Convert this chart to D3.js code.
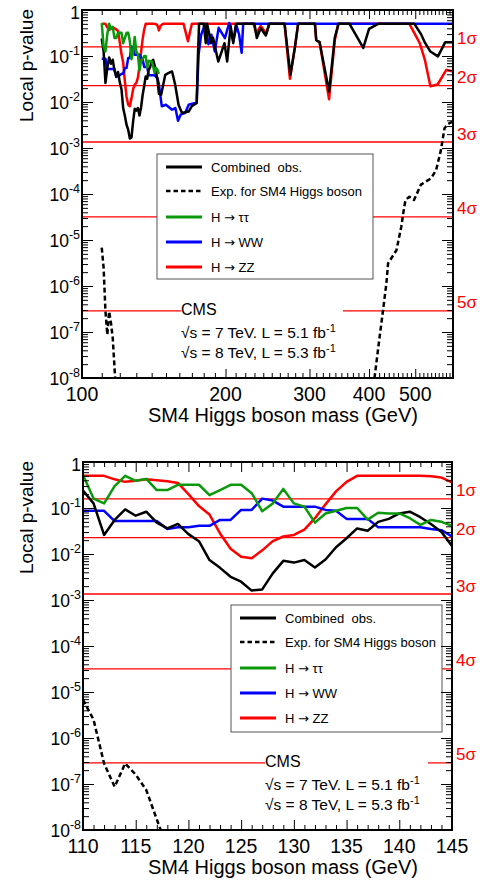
<!DOCTYPE html>
<html><head><meta charset="utf-8">
<script src="https://cdn.jsdelivr.net/npm/d3@7"></script>
<style>
body{margin:0;background:#fff}
svg{display:block}
text{font-family:"Liberation Sans",Arial,Helvetica,sans-serif}
</style>
</head><body>
<svg id="c" width="490" height="884"></svg>
<script>
// ---------------- DATA ----------------
const massLow = [110,111,112,113,114,115,116,117,118,119,120,121,122,123,124,125,126,127,128,129,130,131,132,133,134,135,136,137,138,139,140,141,142,143,144,145];
const combinedLow = [0.24,0.126,0.026,0.055,0.093,0.068,0.083,0.048,0.036,0.045,0.027,0.019,0.0074,0.0050,0.0032,0.0025,0.0016,0.0017,0.0038,0.0071,0.0065,0.0074,0.0051,0.0076,0.014,0.022,0.036,0.032,0.050,0.058,0.076,0.083,0.063,0.045,0.030,0.015];
const tautauLow = [0.52,0.16,0.126,0.30,0.50,0.39,0.43,0.245,0.245,0.32,0.32,0.32,0.19,0.245,0.32,0.32,0.21,0.085,0.126,0.26,0.126,0.107,0.048,0.076,0.087,0.10,0.10,0.056,0.079,0.076,0.076,0.060,0.043,0.055,0.050,0.041];
const wwLow = [0.087,0.087,0.087,0.052,0.052,0.052,0.052,0.052,0.035,0.038,0.038,0.041,0.041,0.055,0.055,0.091,0.091,0.16,0.145,0.107,0.107,0.107,0.107,0.091,0.087,0.058,0.058,0.058,0.038,0.038,0.038,0.038,0.038,0.035,0.033,0.024];
const zzLow = [0.50,0.50,0.50,0.42,0.37,0.39,0.42,0.40,0.38,0.35,0.20,0.11,0.072,0.028,0.013,0.0087,0.0081,0.012,0.019,0.024,0.026,0.034,0.060,0.12,0.23,0.37,0.50,0.50,0.50,0.50,0.50,0.50,0.50,0.49,0.46,0.36];
const massExpLow = [110,111,112,113,114,115,116,117,118];
const expectedLow = [6.8e-6,2.5e-6,2.8e-7,8.7e-8,2.8e-7,1.6e-7,7.4e-8,1.7e-8,4e-9];

// high-mass continuation (upper panel only)
const massCombHigh = [146.6,149.5,152,154.5,156.8,159.4,162,167.4,170,174,175,176,180,181.8,183,186.5,188.3,193.1,196.4,199,201.6,205,207.6,210.3,230,232.6,237,243,247,266,273.6,279.5,284,308,310,315,329.8,339,345,364,389,400,418,498,514,524,538,558,578,600];
const combinedHigh = [0.0145,0.039,0.043,0.046,0.024,0.0087,0.0058,0.0062,0.0081,0.0095,0.09,0.50,0.50,0.19,0.50,0.19,0.25,0.076,0.126,0.19,0.076,0.45,0.19,0.50,0.50,0.245,0.40,0.28,0.50,0.50,0.039,0.15,0.50,0.50,0.22,0.20,0.017,0.25,0.50,0.50,0.15,0.39,0.50,0.50,0.30,0.195,0.125,0.098,0.20,0.20];
const massWWHigh = [147,150,154.5,157,159,161,164.6,167.4,171,174,175.6,177.8,181.3,184.2,186.8,189.9,193.5,199.4,203.6,207.6,211,213.6,216.2,217.8,600];
const wwHigh = [0.0081,0.0087,0.0068,0.0074,0.0039,0.0053,0.0058,0.0087,0.0093,0.0095,0.107,0.29,0.50,0.18,0.29,0.126,0.41,0.245,0.52,0.21,0.45,0.29,0.117,0.50,0.50];
const massZZHigh = [146,148,163.3,166.8,170,229,232,237,243.7,247,266,273,279.5,284,308,310,315,329.8,339,345,486,511,524,538,557,581,600];
const zzHigh = [0.45,0.50,0.50,0.21,0.50,0.50,0.31,0.45,0.31,0.50,0.50,0.032,0.15,0.50,0.50,0.22,0.20,0.0115,0.22,0.50,0.50,0.19,0.081,0.022,0.024,0.050,0.046];
const massExpHigh = [405,411,421,428,435,438.5,456.6,467.4,473,477,486,497,514,540,553,566,576,585,600];
const expectedHigh = [3e-9,1.07e-8,7.9e-8,3.0e-7,1.15e-6,3.1e-6,6.0e-6,1.95e-5,4.5e-5,7.4e-5,8.7e-5,7.4e-5,1.6e-4,2.2e-4,3.3e-4,9e-4,2.7e-3,3.3e-3,3.8e-3];

const sigmaP = [0.158655,0.02275,0.0013499,3.167e-5,2.867e-7];
const sigmaLabels = ["1σ","2σ","3σ","4σ","5σ"];
const yExponents = [0,-1,-2,-3,-4,-5,-6,-7,-8];
const topXTickLabels = [100,200,300,400,500];
const bottomXTickLabels = [110,115,120,125,130,135,140,145];
const legendLabels = [["Combined  obs."],["Exp. for SM4 Higgs boson"],["H ","\u2192"," \u03c4\u03c4"],["H ","\u2192"," WW"],["H ","\u2192"," ZZ"]];
const xTitle = "SM4 Higgs boson mass (GeV)";
const yTitle = "Local p-value";

// ---------------- DRAW ----------------
const svg = d3.select("#c");
const colors = {comb:"#000000", tt:"#0b990b", ww:"#0000ff", zz:"#ff0000"};

function zip(a,b){return a.map((v,i)=>[v,b[i]]);}

const panels = [
  {id:"top", x0:82, x1:453, y0:10, y1:378,
   x: d3.scaleLog().domain([100,600]).range([82,453]),
   legend:{x:157,y:154,w:216,h:125},
   cms:{x:181,y:305,boxW:162},
   tickLabels: topXTickLabels,
   major: topXTickLabels.concat([600]),
   minor: d3.range(110,600,10).filter(v=>v%100!==0),
   majorLen:9, minorLen:5,
   series:{
     zz: zip(massLow.concat(massZZHigh), zzLow.concat(zzHigh)),
     ww: zip(massLow.concat(massWWHigh), wwLow.concat(wwHigh)),
     tt: zip(massLow, tautauLow),
     comb: zip(massLow.concat(massCombHigh), combinedLow.concat(combinedHigh)),
     expA: zip(massExpLow, expectedLow),
     expB: zip(massExpHigh, expectedHigh)
   }},
  {id:"bot", x0:83, x1:452, y0:462, y1:830,
   x: d3.scaleLinear().domain([110,145]).range([83,452]),
   legend:{x:231,y:605,w:211,h:127},
   cms:{x:265,y:305,boxW:163},
   tickLabels: bottomXTickLabels,
   major: bottomXTickLabels,
   minor: d3.range(111,145,1).filter(v=>v%5!==0),
   majorLen:10, minorLen:5,
   series:{
     zz: zip(massLow, zzLow),
     ww: zip(massLow, wwLow),
     tt: zip(massLow, tautauLow),
     comb: zip(massLow, combinedLow),
     expA: zip(massExpLow, expectedLow)
   }}
];

panels.forEach(P=>{
  const g = svg.append("g");
  const x = P.x;
  const y = d3.scaleLog().domain([1e-8,1]).range([P.y1,P.y0]);
  const clipId = "clip-"+P.id;
  svg.append("clipPath").attr("id",clipId).append("rect")
    .attr("x",P.x0).attr("y",P.y0).attr("width",P.x1-P.x0).attr("height",P.y1-P.y0);

  // sigma lines
  const sl = g.append("g");
  sigmaP.forEach((p,i)=>{
    sl.append("line").attr("x1",P.x0).attr("x2",P.x1).attr("y1",y(p)).attr("y2",y(p))
      .attr("stroke","#ff0000").attr("stroke-width",1.3);
    g.append("text").attr("x",P.x1+4).attr("y",y(p)-2.5).attr("fill","#ff0000")
      .attr("font-size",17).text(sigmaLabels[i]);
  });
  // white box behind CMS text
  g.append("rect").attr("x",P.cms.x).attr("y",P.y0+P.cms.y-14).attr("width",P.cms.boxW).attr("height",60).attr("fill","#fff");

  // curves
  const line = d3.line().x(d=>x(d[0])).y(d=>y(d[1]));
  const cg = g.append("g").attr("clip-path",`url(#${clipId})`);
  const draw=(data,col,dash)=>{
    cg.append("path").datum(data).attr("d",line).attr("fill","none")
      .attr("stroke",col).attr("stroke-width",2.5).attr("stroke-linejoin","round")
      .attr("stroke-dasharray",dash||null);
  };
  draw(P.series.zz, colors.zz);
  draw(P.series.ww, colors.ww);
  draw(P.series.comb, colors.comb);
  draw(P.series.tt, colors.tt);
  draw(P.series.expA, colors.comb, "5,3");
  if(P.series.expB) draw(P.series.expB, colors.comb, "5,3");

  // legend
  const L = P.legend;
  g.append("rect").attr("x",L.x).attr("y",L.y).attr("width",L.w).attr("height",L.h)
    .attr("fill","#fff").attr("stroke","#555").attr("stroke-width",1);
  const legCols = [colors.comb, colors.comb, colors.tt, colors.ww, colors.zz];
  const legOff = [13,37,63,88,113];
  legendLabels.forEach((parts,i)=>{
    const yy = L.y+legOff[i];
    g.append("line").attr("x1",L.x+9).attr("x2",L.x+45).attr("y1",yy).attr("y2",yy)
      .attr("stroke",legCols[i]).attr("stroke-width",i===1?2.5:3)
      .attr("stroke-dasharray",i===1?"4.5,3":null);
    const t = g.append("text").attr("x",L.x+54).attr("y",yy+4.5).attr("font-size",13)
      .attr("xml:space","preserve").style("white-space","pre");
    parts.forEach(s=>{
      const ts = t.append("tspan").text(s);
      if(s==="\u2192") ts.attr("font-family","'DejaVu Sans'").attr("font-size",13);
    });
  });

  // CMS text
  const ct = P.y0+P.cms.y;
  g.append("text").attr("x",P.cms.x).attr("y",ct).attr("font-size",16).text("CMS");
  const lumi = ["\u221As = 7 TeV. L = 5.1 fb","\u221As = 8 TeV, L = 5.3 fb"];
  lumi.forEach((l,i)=>{
    const t = g.append("text").attr("x",P.cms.x).attr("y",ct+23+i*20).attr("font-size",15.5);
    t.append("tspan").text(l);
    t.append("tspan").attr("dy",-6).attr("font-size",11).text("-1");
  });

  // frame
  g.append("rect").attr("x",P.x0).attr("y",P.y0).attr("width",P.x1-P.x0).attr("height",P.y1-P.y0)
    .attr("fill","none").attr("stroke","#000").attr("stroke-width",2);

  // ticks via axes
  const yMaj = yExponents.map(e=>Math.pow(10,e));
  const yMin = [];
  yExponents.slice(1).forEach(e=>{ for(let k=2;k<=9;k++) yMin.push(k*Math.pow(10,e)); });
  const axG = g.append("g");
  const addAxis=(axis,tx,ty)=>{
    const a = axG.append("g").attr("transform",`translate(${tx},${ty})`).call(axis);
    a.select(".domain").remove();
    a.selectAll("line").attr("stroke","#000").attr("stroke-width",1);
  };
  addAxis(d3.axisLeft(y).tickValues(yMaj).tickSize(-11).tickFormat(""),P.x0,0);
  addAxis(d3.axisLeft(y).tickValues(yMin).tickSize(-6).tickFormat(""),P.x0,0);
  addAxis(d3.axisRight(y).tickValues(yMaj).tickSize(-11).tickFormat(""),P.x1,0);
  addAxis(d3.axisRight(y).tickValues(yMin).tickSize(-6).tickFormat(""),P.x1,0);
  addAxis(d3.axisBottom(x).tickValues(P.major).tickSize(-P.majorLen).tickFormat(""),0,P.y1);
  addAxis(d3.axisBottom(x).tickValues(P.minor).tickSize(-P.minorLen).tickFormat(""),0,P.y1);
  addAxis(d3.axisTop(x).tickValues(P.major).tickSize(-P.majorLen).tickFormat(""),0,P.y0);
  addAxis(d3.axisTop(x).tickValues(P.minor).tickSize(-P.minorLen).tickFormat(""),0,P.y0);

  // y labels
  yExponents.forEach(e=>{
    const yy = y(Math.pow(10,e));
    const t = g.append("text").attr("x",P.x0-2).attr("text-anchor","end").attr("y",e===0?yy+9:yy+7).attr("font-size",17.5);
    if(e===0){ t.text("1"); }
    else {
      t.append("tspan").text("10");
      t.append("tspan").attr("dy",-8).attr("font-size",12.5).text(String(e));
    }
  });
  // x labels
  P.tickLabels.forEach(v=>{
    g.append("text").attr("x",x(v)).attr("y",P.y1+23).attr("text-anchor","middle").attr("font-size",19.5).text(v);
  });
  // titles
  g.append("text").attr("x",418).attr("y",P.y1+44).attr("text-anchor","end").attr("font-size",20).text(xTitle);
  g.append("text").attr("transform",`translate(33,${P.y0-1}) rotate(-90)`).attr("text-anchor","end")
    .attr("font-size",19).text(yTitle);
});
</script>
</body></html>
